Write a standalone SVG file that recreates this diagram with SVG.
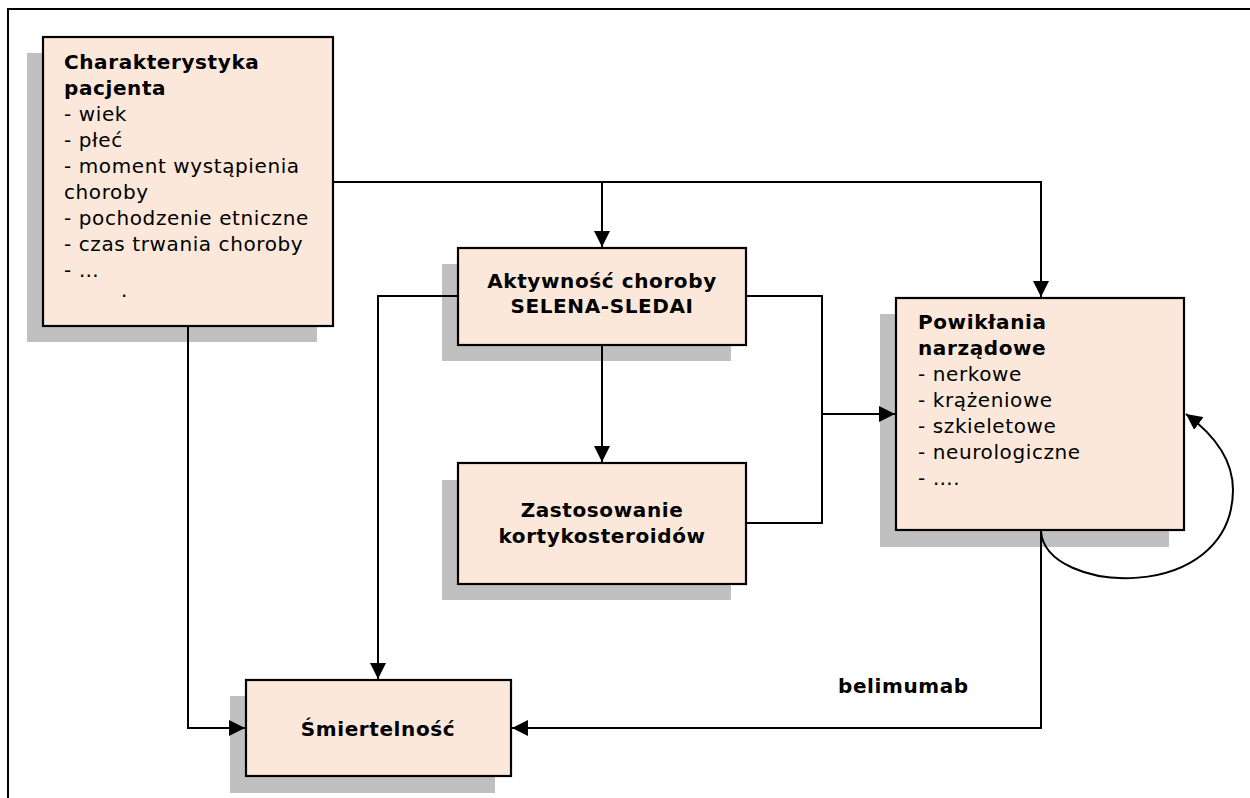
<svg xmlns="http://www.w3.org/2000/svg" width="1250" height="798" viewBox="0 0 1250 798">
<defs>
<style>
.shadow{fill:#c0c0c0}
.box{fill:#fbe8da;stroke:#000;stroke-width:2.2}
.t{font-family:"DejaVu Sans",Verdana,sans-serif;font-size:20px;letter-spacing:0.6px;fill:#000}
.b{font-weight:bold}
.c{text-anchor:middle}
.ln{fill:none;stroke:#000;stroke-width:2}
</style>
<marker id="ah" markerUnits="userSpaceOnUse" markerWidth="16" markerHeight="16" refX="16" refY="8" orient="auto" viewBox="0 0 16 16">
<path d="M0,0 L16,8 L0,16 z" fill="#000"/>
</marker>
</defs>
<rect width="1250" height="798" fill="#fff"/>
<path d="M8,798 L8,9 L1250,9" fill="none" stroke="#000" stroke-width="2"/>

<g id="node-charakterystyka">
<rect class="shadow" x="27" y="53" width="290" height="289"/>
<rect class="box" x="43" y="37" width="290" height="289"/>
<text class="t" x="64" y="69"><tspan class="b">Charakterystyka</tspan><tspan class="b" x="64" dy="26">pacjenta</tspan><tspan x="64" dy="26">- wiek</tspan><tspan x="64" dy="26">- płeć</tspan><tspan x="64" dy="26">- moment wystąpienia</tspan><tspan x="64" dy="26">choroby</tspan><tspan x="64" dy="26">- pochodzenie etniczne</tspan><tspan x="64" dy="26">- czas trwania choroby</tspan><tspan x="64" dy="26">- …</tspan></text>
<text class="t" x="121" y="297">.</text>
</g>

<g id="node-aktywnosc">
<rect class="shadow" x="442" y="264" width="289" height="97"/>
<rect class="box" x="458" y="248" width="288" height="97"/>
<text class="t b c" x="602" y="288">Aktywność choroby</text>
<text class="t b c" x="602" y="313">SELENA-SLEDAI</text>
</g>

<g id="node-zastosowanie">
<rect class="shadow" x="442" y="480" width="289" height="120"/>
<rect class="box" x="458" y="463" width="288" height="121"/>
<text class="t b c" x="602" y="517">Zastosowanie</text>
<text class="t b c" x="602" y="543">kortykosteroidów</text>
</g>

<g id="node-powiklania">
<rect class="shadow" x="880" y="314" width="289" height="233"/>
<rect class="box" x="896" y="298" width="288" height="232"/>
<text class="t" x="918" y="329"><tspan class="b">Powikłania</tspan><tspan class="b" x="918" dy="26">narządowe</tspan><tspan x="918" dy="26">- nerkowe</tspan><tspan x="918" dy="26">- krążeniowe</tspan><tspan x="918" dy="26">- szkieletowe</tspan><tspan x="918" dy="26">- neurologiczne</tspan><tspan x="918" dy="26">- ….</tspan></text>
</g>

<g id="node-smiertelnosc">
<rect class="shadow" x="230" y="696" width="265" height="97"/>
<rect class="box" x="246" y="680" width="265" height="96"/>
<text class="t b c" x="378" y="736">Śmiertelność</text>
</g>

<g id="label-belimumab">
<text class="t b" x="838" y="693">belimumab</text>
</g>

<g id="connectors">
<path class="ln" d="M333,182 L1041,182 L1041,297" marker-end="url(#ah)"/>
<path class="ln" d="M602,182 L602,247" marker-end="url(#ah)"/>
<path class="ln" d="M602,345 L602,462" marker-end="url(#ah)"/>
<path class="ln" d="M746,296 L822,296 L822,523 L746,523"/>
<path class="ln" d="M822,414 L895,414" marker-end="url(#ah)"/>
<path class="ln" d="M458,296 L378,296 L378,679" marker-end="url(#ah)"/>
<path class="ln" d="M188,326 L188,728 L245,728" marker-end="url(#ah)"/>
<path class="ln" d="M1041,530 L1041,728 L512,728" marker-end="url(#ah)"/>
<path class="ln" d="M1041,531 C1045,595 1232,605 1233,490 C1233,462 1216,436 1186,414" marker-end="url(#ah)"/>
</g>
</svg>
